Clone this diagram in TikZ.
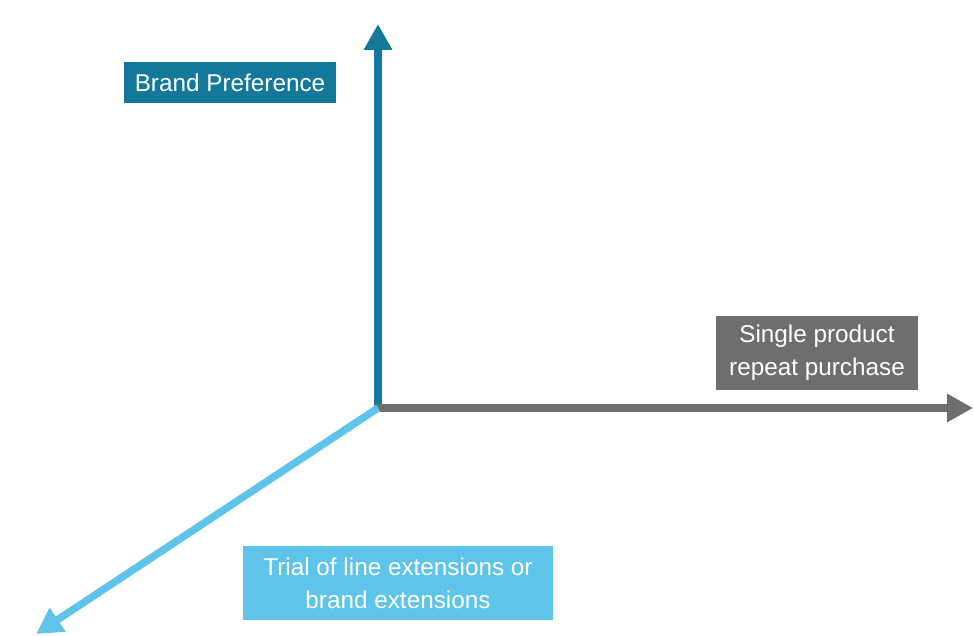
\documentclass[tikz,border=0pt]{standalone}
\usepackage{fontspec}
\setmainfont{Liberation Sans}
\usepackage{tikz}
\usetikzlibrary{arrows.meta}
\definecolor{prefblue}{HTML}{14789B}
\definecolor{repeatgray}{HTML}{6E6E6E}
\definecolor{trialblue}{HTML}{5EC4EA}
\tikzset{
	axis/.style={line width=7.5pt, -{Triangle[width=27pt,length=26pt]}},
	axislabel/.style={fill=#1, text=white, font=\fontsize{24.3}{33}\selectfont,
		align=center, inner sep=0pt},
}

\begin{document}
\begin{tikzpicture}[x=1pt,y=-1pt]
	\useasboundingbox (0,0) rectangle (973,636);
	% the three axes start from one corner
	\coordinate (o) at (378,408);
	\coordinate (up) at (378,24);
	\coordinate (right) at (973,408);
	\coordinate (down) at (36,634);
	\draw[axis,prefblue] (o) -- (up);
	\draw[axis,repeatgray] ([xshift=-3.5pt]o) -- (right);
	\draw[axis,trialblue] (o) -- (down);
	% labels
	\node[axislabel=prefblue, minimum width=212pt, minimum height=41pt] (pref) at (230,82.5) {Brand Preference};
	\node[axislabel=repeatgray, minimum width=202pt, minimum height=74pt] (rep) at (817,353) {Single product\\repeat purchase};
	\node[axislabel=trialblue, minimum width=310pt, minimum height=74pt] (trial) at (398,583) {Trial of line extensions or\\brand extensions};
\end{tikzpicture}
\end{document}
